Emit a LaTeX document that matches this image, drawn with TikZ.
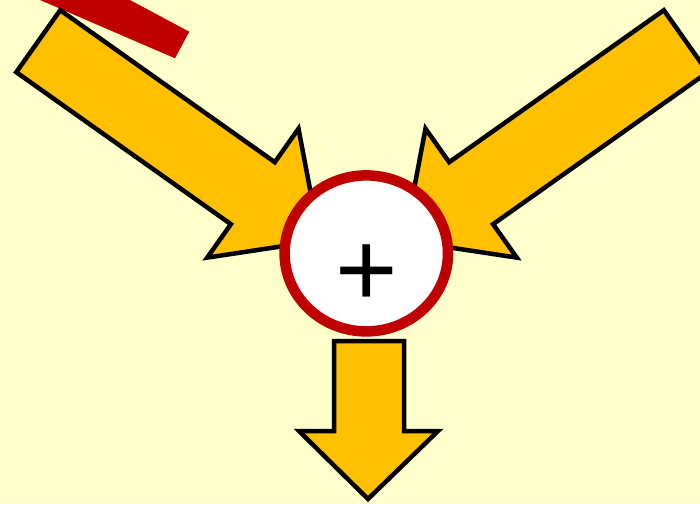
\documentclass[tikz,border=0pt]{standalone}
\usepackage{fontspec}
\setmainfont{Liberation Sans}
\usetikzlibrary{shapes.geometric}
\definecolor{bgyellow}{HTML}{FFFFCC}
\definecolor{arroworange}{HTML}{FFC000}
\definecolor{darkred}{HTML}{C00000}
\tikzset{
  bigarrow/.style={fill=arroworange, draw=black, line width=4.5pt, line join=miter},
  sumcircle/.style={ellipse, draw=darkred, fill=white, line width=10.5pt,
    minimum width=163.4pt, minimum height=156pt, inner sep=0pt},
  plussign/.style={inner sep=0pt, font=\fontsize{107}{107}\selectfont},
  redband/.style={fill=darkred}
}
\begin{document}
\begin{tikzpicture}[x=1pt, y=-1pt]
\useasboundingbox (0,0) rectangle (700,504);
\fill[bgyellow] (0,0) rectangle (700,504);
\clip (0,0) rectangle (700,504);
% red band (end of a larger stroke, cut by the frame)
\fill[redband] (30,-4.3) -- (175,58.3) -- (189.3,31.7) -- (120,-5.3) -- cycle;
% left input arrow
\draw[bigarrow] (60.2,10.2) -- (274.8,162.2) -- (298.5,128.7) -- (319.8,240.6)
  -- (207.2,257.6) -- (230.9,224.2) -- (16.3,72.2) -- cycle;
% right input arrow
\draw[bigarrow] (663.8,10.2) -- (449.2,162.2) -- (425.5,128.7) -- (404.2,240.6)
  -- (516.8,257.6) -- (493.1,224.2) -- (707.7,72.2) -- cycle;
% summing junction
\node[sumcircle] (sum) at (366.3,253.4) {};
\node[plussign] (plus) at (366.3,275.3) {+};
% output arrow
\draw[bigarrow] (334,341) -- (404,341) -- (404,431) -- (438,431) -- (368,499)
  -- (299,431) -- (334,431) -- cycle;
\end{tikzpicture}
\end{document}
